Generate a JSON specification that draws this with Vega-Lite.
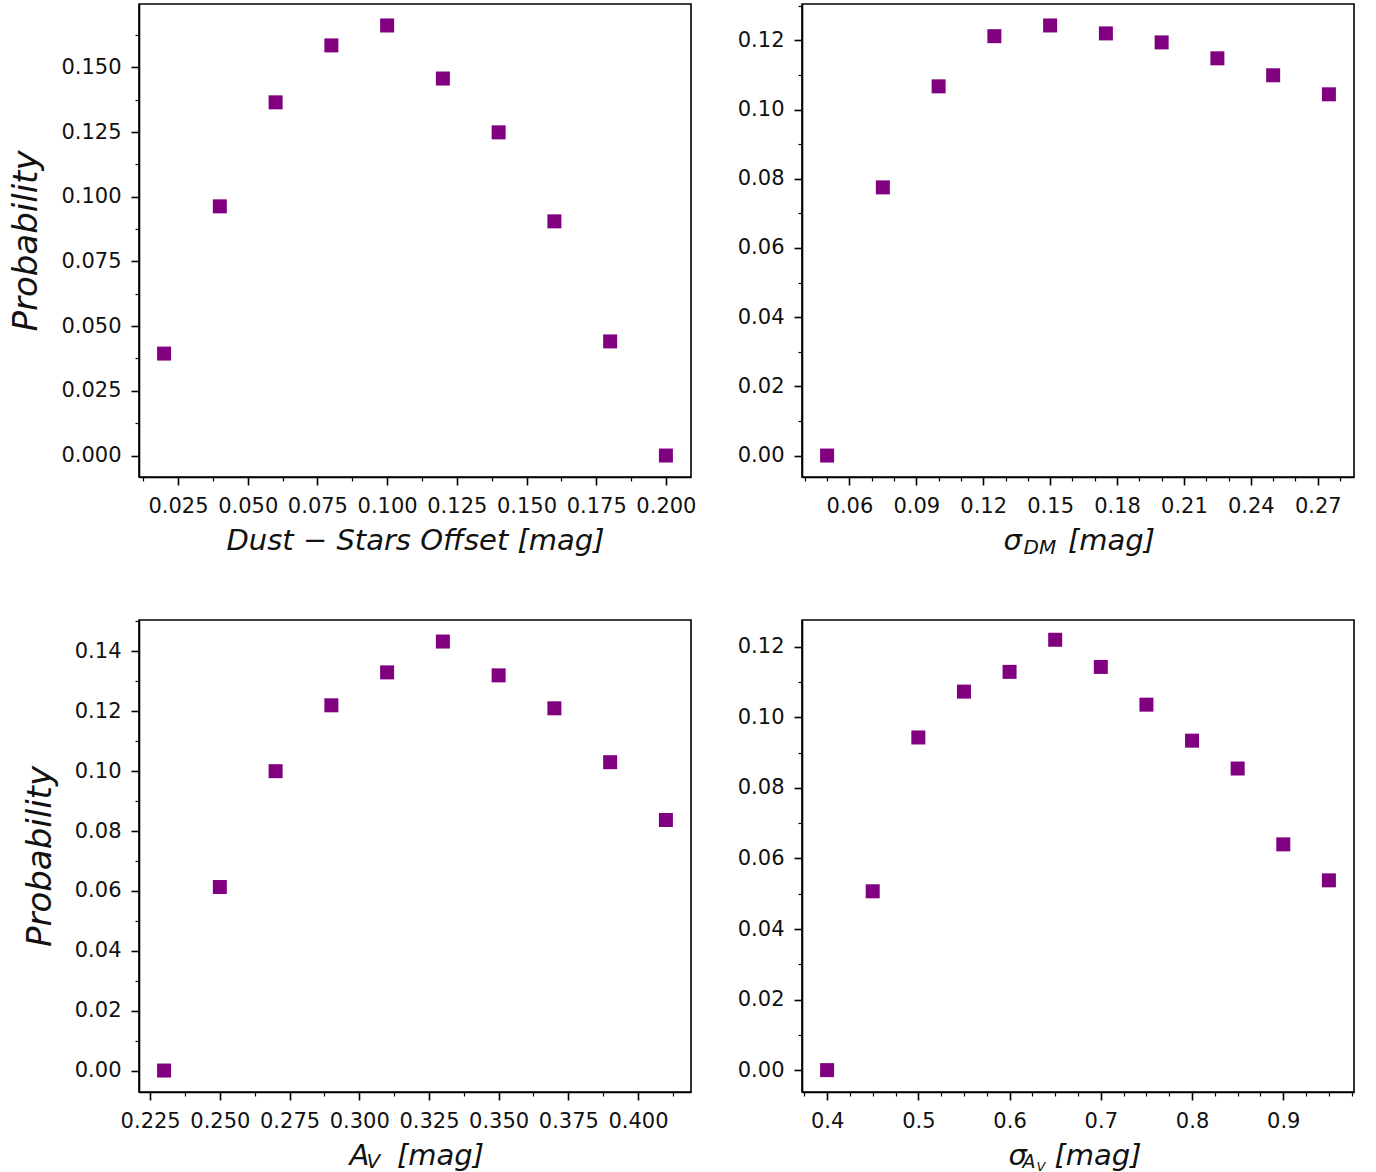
{
  "$schema": "https://vega.github.io/schema/vega-lite/v6.json",
  "background": "white",
  "padding": {"left": 9, "top": 3, "right": 5, "bottom": 5},
  "bounds": "flush",
  "columns": 2,
  "spacing": {"row": 143, "column": 111},
  "datasets": {
    "dust": [
      {"x": 0.02, "p": 0.0394}, {"x": 0.04, "p": 0.0963}, {"x": 0.06, "p": 0.1365}, {"x": 0.08, "p": 0.1585}, {"x": 0.10, "p": 0.1662},
      {"x": 0.12, "p": 0.1457}, {"x": 0.14, "p": 0.1249}, {"x": 0.16, "p": 0.0905}, {"x": 0.18, "p": 0.0441}, {"x": 0.20, "p": 0.0}
    ],
    "sdm": [
      {"x": 0.05, "p": 0.0}, {"x": 0.075, "p": 0.0775}, {"x": 0.10, "p": 0.1067}, {"x": 0.125, "p": 0.1212}, {"x": 0.15, "p": 0.1243},
      {"x": 0.175, "p": 0.1220}, {"x": 0.20, "p": 0.1194}, {"x": 0.225, "p": 0.1148}, {"x": 0.25, "p": 0.1099}, {"x": 0.275, "p": 0.1044}
    ],
    "av": [
      {"x": 0.23, "p": 0.0}, {"x": 0.25, "p": 0.0613}, {"x": 0.27, "p": 0.1000}, {"x": 0.29, "p": 0.1220}, {"x": 0.31, "p": 0.1330},
      {"x": 0.33, "p": 0.1433}, {"x": 0.35, "p": 0.1320}, {"x": 0.37, "p": 0.1210}, {"x": 0.39, "p": 0.1030}, {"x": 0.41, "p": 0.0837}
    ],
    "sav": [
      {"x": 0.40, "p": 0.0}, {"x": 0.45, "p": 0.0507}, {"x": 0.50, "p": 0.0943}, {"x": 0.55, "p": 0.1073}, {"x": 0.60, "p": 0.1129},
      {"x": 0.65, "p": 0.1220}, {"x": 0.70, "p": 0.1143}, {"x": 0.75, "p": 0.1036}, {"x": 0.80, "p": 0.0934}, {"x": 0.85, "p": 0.0855},
      {"x": 0.90, "p": 0.0640}, {"x": 0.95, "p": 0.0538}
    ]
  },
  "config": {
    "view": {"stroke": "black", "strokeWidth": 1.6},
    "axis": {
      "grid": false, "domainColor": "black", "domainWidth": 1.6,
      "tickColor": "black", "tickWidth": 1.6, "tickSize": 8,
      "labelFont": "DejaVu Sans", "labelFontSize": 21, "labelColor": "#111111", "labelPadding": 10,
      "labelFlush": false, "labelOverlap": false,
      "titleFont": "DejaVu Sans", "titleFontStyle": "italic", "titleFontWeight": "normal", "titleColor": "#111111"
    },
    "axisX": {"titleFontSize": 29, "titlePadding": 10},
    "axisY": {"titleFontSize": 34, "titlePadding": 17}
  },
  "concat": [
    {
      "width": 552, "height": 473,
      "data": {"name": "dust"},
      "resolve": {"axis": {"x": "independent", "y": "independent"}},
      "layer": [
        {
          "mark": {"type": "square", "size": 196, "color": "#800080", "opacity": 1},
          "encoding": {
            "x": {"field": "x", "type": "quantitative", "scale": {"domain": [0.011, 0.209], "nice": false, "zero": false},
                  "axis": {"values": [0.025, 0.05, 0.075, 0.1, 0.125, 0.15, 0.175, 0.2], "format": ".3f", "title": "Dust − Stars Offset [mag]"}},
            "y": {"field": "p", "type": "quantitative", "scale": {"domain": [-0.0083, 0.1745], "nice": false, "zero": false},
                  "axis": {"values": [0, 0.025, 0.05, 0.075, 0.1, 0.125, 0.15], "format": ".3f", "title": "Probability"}}
          }
        },
        {
          "mark": {"type": "square", "opacity": 0},
          "encoding": {
            "x": {"field": "x", "type": "quantitative", "scale": {"domain": [0.011, 0.209], "nice": false, "zero": false},
                  "axis": {"orient": "bottom", "values": [0.0125, 0.0375, 0.0625, 0.0875, 0.1125, 0.1375, 0.1625, 0.1875], "labels": false, "domain": false, "tickSize": 4, "tickWidth": 1.2, "title": null}},
            "y": {"field": "p", "type": "quantitative", "scale": {"domain": [-0.0083, 0.1745], "nice": false, "zero": false},
                  "axis": {"orient": "left", "values": [0.0125, 0.0375, 0.0625, 0.0875, 0.1125, 0.1375, 0.1625], "labels": false, "domain": false, "tickSize": 4, "tickWidth": 1.2, "title": null}}
          }
        }
      ]
    },
    {
      "width": 552, "height": 473,
      "data": {"name": "sdm"},
      "resolve": {"axis": {"x": "independent", "y": "independent"}},
      "layer": [
        {
          "mark": {"type": "square", "size": 196, "color": "#800080", "opacity": 1},
          "encoding": {
            "x": {"field": "x", "type": "quantitative", "scale": {"domain": [0.03875, 0.28625], "nice": false, "zero": false},
                  "axis": {"values": [0.06, 0.09, 0.12, 0.15, 0.18, 0.21, 0.24, 0.27], "format": ".2f", "title": "σ\u00a0\u00a0\u00a0\u00a0\u00a0[mag]",
                           "titleX": 201, "titleY": 72, "titleAlign": "left", "titleBaseline": "alphabetic"}},
            "y": {"field": "p", "type": "quantitative", "scale": {"domain": [-0.0062, 0.1305], "nice": false, "zero": false},
                  "axis": {"values": [0, 0.02, 0.04, 0.06, 0.08, 0.1, 0.12], "format": ".2f", "title": null}}
          }
        },
        {
          "mark": {"type": "square", "opacity": 0},
          "encoding": {
            "x": {"field": "x", "type": "quantitative", "scale": {"domain": [0.03875, 0.28625], "nice": false, "zero": false},
                  "axis": {"orient": "bottom", "values": [0.04, 0.05, 0.07, 0.08, 0.1, 0.11, 0.13, 0.14, 0.16, 0.17, 0.19, 0.2, 0.22, 0.23, 0.25, 0.26, 0.28], "labels": false, "domain": false, "tickSize": 4, "tickWidth": 1.2,
                           "title": "DM", "titleFontSize": 20, "titleX": 221, "titleY": 76, "titleAlign": "left", "titleBaseline": "alphabetic"}},
            "y": {"field": "p", "type": "quantitative", "scale": {"domain": [-0.0062, 0.1305], "nice": false, "zero": false},
                  "axis": {"orient": "left", "values": [0.01, 0.03, 0.05, 0.07, 0.09, 0.11, 0.13], "labels": false, "domain": false, "tickSize": 4, "tickWidth": 1.2, "title": null}}
          }
        }
      ]
    },
    {
      "width": 552, "height": 472,
      "data": {"name": "av"},
      "resolve": {"axis": {"x": "independent", "y": "independent"}},
      "layer": [
        {
          "mark": {"type": "square", "size": 196, "color": "#800080", "opacity": 1},
          "encoding": {
            "x": {"field": "x", "type": "quantitative", "scale": {"domain": [0.221, 0.419], "nice": false, "zero": false},
                  "axis": {"values": [0.225, 0.25, 0.275, 0.3, 0.325, 0.35, 0.375, 0.4], "format": ".3f", "title": "A\u00a0\u00a0\u00a0[mag]",
                           "titleX": 210, "titleY": 72, "titleAlign": "left", "titleBaseline": "alphabetic"}},
            "y": {"field": "p", "type": "quantitative", "scale": {"domain": [-0.00717, 0.1505], "nice": false, "zero": false},
                  "axis": {"values": [0, 0.02, 0.04, 0.06, 0.08, 0.1, 0.12, 0.14], "format": ".2f", "title": "Probability"}}
          }
        },
        {
          "mark": {"type": "square", "opacity": 0},
          "encoding": {
            "x": {"field": "x", "type": "quantitative", "scale": {"domain": [0.221, 0.419], "nice": false, "zero": false},
                  "axis": {"orient": "bottom", "values": [0.2375, 0.2625, 0.2875, 0.3125, 0.3375, 0.3625, 0.3875, 0.4125], "labels": false, "domain": false, "tickSize": 4, "tickWidth": 1.2,
                           "title": "V", "titleFontSize": 20, "titleX": 227, "titleY": 75, "titleAlign": "left", "titleBaseline": "alphabetic"}},
            "y": {"field": "p", "type": "quantitative", "scale": {"domain": [-0.00717, 0.1505], "nice": false, "zero": false},
                  "axis": {"orient": "left", "values": [0.01, 0.03, 0.05, 0.07, 0.09, 0.11, 0.13, 0.15], "labels": false, "domain": false, "tickSize": 4, "tickWidth": 1.2, "title": null}}
          }
        }
      ]
    },
    {
      "width": 552, "height": 472,
      "data": {"name": "sav"},
      "resolve": {"axis": {"x": "independent", "y": "independent"}},
      "layer": [
        {
          "mark": {"type": "square", "size": 196, "color": "#800080", "opacity": 1},
          "encoding": {
            "x": {"field": "x", "type": "quantitative", "scale": {"domain": [0.3725, 0.9775], "nice": false, "zero": false},
                  "axis": {"values": [0.4, 0.5, 0.6, 0.7, 0.8, 0.9], "format": ".1f", "title": "σ\u00a0\u00a0\u00a0[mag]",
                           "titleX": 206, "titleY": 72, "titleAlign": "left", "titleBaseline": "alphabetic"}},
            "y": {"field": "p", "type": "quantitative", "scale": {"domain": [-0.0062, 0.1276], "nice": false, "zero": false},
                  "axis": {"values": [0, 0.02, 0.04, 0.06, 0.08, 0.1, 0.12], "format": ".2f", "title": null}}
          }
        },
        {
          "mark": {"type": "square", "opacity": 0},
          "encoding": {
            "x": {"field": "x", "type": "quantitative", "scale": {"domain": [0.3725, 0.9775], "nice": false, "zero": false},
                  "axis": {"orient": "bottom", "values": [0.375, 0.425, 0.45, 0.475, 0.525, 0.55, 0.575, 0.625, 0.65, 0.675, 0.725, 0.75, 0.775, 0.825, 0.85, 0.875, 0.925, 0.95, 0.975], "labels": false, "domain": false, "tickSize": 4, "tickWidth": 1.2,
                           "title": "A", "titleFontSize": 19, "titleX": 220, "titleY": 75, "titleAlign": "left", "titleBaseline": "alphabetic"}},
            "y": {"field": "p", "type": "quantitative", "scale": {"domain": [-0.0062, 0.1276], "nice": false, "zero": false},
                  "axis": {"orient": "left", "values": [0.01, 0.03, 0.05, 0.07, 0.09, 0.11], "labels": false, "domain": false, "tickSize": 4, "tickWidth": 1.2, "title": null}}
          }
        },
        {
          "mark": {"type": "square", "opacity": 0},
          "encoding": {
            "x": {"field": "x", "type": "quantitative", "scale": {"domain": [0.3725, 0.9775], "nice": false, "zero": false},
                  "axis": {"orient": "bottom", "labels": false, "ticks": false, "domain": false,
                           "title": "V", "titleFontSize": 13, "titleX": 234, "titleY": 78, "titleAlign": "left", "titleBaseline": "alphabetic"}},
            "y": {"field": "p", "type": "quantitative", "scale": {"domain": [-0.0062, 0.1276], "nice": false, "zero": false}, "axis": null}
          }
        }
      ]
    }
  ]
}
